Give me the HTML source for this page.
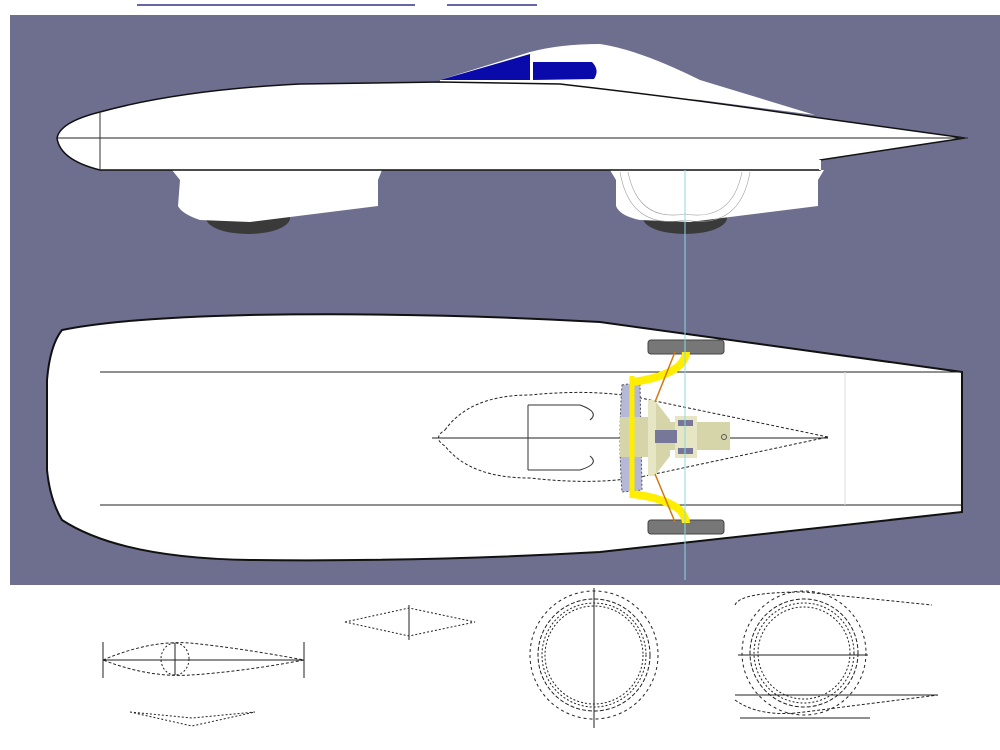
<!DOCTYPE html>
<html><head><meta charset="utf-8"><style>
html,body{margin:0;padding:0;background:#fff;width:1000px;height:750px;overflow:hidden}
svg{display:block}
</style></head><body>
<svg width="1000" height="750" viewBox="0 0 1000 750" xmlns="http://www.w3.org/2000/svg">
<rect x="0" y="0" width="1000" height="750" fill="#fff"/>
<line x1="137" y1="5" x2="415" y2="5" stroke="#33338a" stroke-width="1.5"/>
<line x1="447" y1="5" x2="537" y2="5" stroke="#33338a" stroke-width="1.5"/>
<rect x="10" y="15" width="990" height="570" fill="#6e6e8f"/>

<!-- SIDE VIEW -->
<ellipse cx="248" cy="218" rx="42" ry="16" fill="#3a3a3a"/>
<ellipse cx="685" cy="218" rx="42" ry="16" fill="#3a3a3a"/>
<path d="M172,170 L180,180 L178,206 Q182,214 200,220 L250,222 L378,206 L378,180 L382,170 Z" fill="#fff"/>
<path d="M610,170 L616,180 L616,206 Q620,216 640,220 L690,222 L818,206 L818,180 L824,170 Z" fill="#fff"/>
<g fill="none" stroke="#999" stroke-width="0.6">
<path d="M620,172 Q630,230 685,220 Q740,230 750,172"/>
<path d="M628,172 Q638,222 685,214 Q732,222 742,172"/>
<line x1="685" y1="172" x2="685" y2="222" stroke="#555"/>
</g>
<path d="M440,80 L530,52 Q560,44 600,44 Q640,50 700,80 L815,115 L700,100 L560,88 L440,82 Z" fill="#fff"/>
<path d="M440,80 L530,54 L530,80 Z" fill="#0a0aaa"/>
<path d="M533,62 L592,62 Q600,70 594,79 L533,80 Z" fill="#0a0aaa"/>
<path d="M100,112 Q180,90 300,84 L440,82 L560,84 Q700,100 820,118 L965,138 L820,160 L820,170 L100,170 Q60,160 57,138 Q60,122 100,112 Z" fill="#fff" stroke="#111" stroke-width="1.5"/>
<line x1="57" y1="138" x2="968" y2="138" stroke="#222" stroke-width="1"/>
<line x1="100" y1="112" x2="100" y2="170" stroke="#333" stroke-width="1"/>
<line x1="820" y1="160" x2="820" y2="170" stroke="#fff" stroke-width="2"/>

<!-- TOP VIEW -->
<path d="M62,330 Q120,318 250,315 Q420,312 600,322 L962,372 L962,512 L600,552 Q420,562 250,560 Q120,558 62,520 Q50,500 47,470 L47,380 Q50,345 62,330 Z" fill="#fff" stroke="#111" stroke-width="2"/>
<line x1="100" y1="372" x2="962" y2="372" stroke="#222"/>
<line x1="100" y1="505" x2="962" y2="505" stroke="#222"/>
<line x1="845" y1="372" x2="845" y2="505" stroke="#ddd"/>
<path d="M445,430 Q470,395 530,395 Q600,388 650,400 L828,437 L650,475 Q600,486 530,478 Q470,478 445,446 Q432,438 445,430 Z" fill="none" stroke="#222" stroke-width="1" stroke-dasharray="3,2"/>
<line x1="432" y1="438" x2="828" y2="438" stroke="#222"/>
<path d="M528,405 L528,470 M528,405 L580,405 Q600,412 590,420 M528,470 L580,470 Q600,464 590,456" fill="none" stroke="#333"/>
<rect x="648" y="340" width="76" height="14" rx="3" fill="#777" stroke="#444"/>
<rect x="648" y="520" width="76" height="14" rx="3" fill="#777" stroke="#444"/>
<path d="M622,385 L640,382 L642,490 L622,492 Q618,440 622,385 Z" fill="#b6b8d8" stroke="#555" stroke-dasharray="2,2"/>
<rect x="620" y="417" width="40" height="40" fill="#d6d5aa"/>
<rect x="648" y="400" width="8" height="76" fill="#e6e5c4"/>
<path d="M656,402 L670,420 L670,456 L656,474 Z" fill="#d6d5aa"/>
<rect x="670" y="422" width="60" height="28" fill="#d6d5aa"/>
<rect x="675" y="416" width="22" height="42" fill="#e6e5c4"/>
<rect x="655" y="430" width="22" height="13" fill="#777799"/>
<rect x="678" y="420" width="15" height="6" fill="#777799"/>
<rect x="678" y="448" width="15" height="6" fill="#777799"/>
<circle cx="724" cy="437" r="2.5" fill="none" stroke="#555"/>
<path d="M632,376 L632,498" stroke="#ffee00" stroke-width="5"/>
<path d="M632,382 Q665,378 680,365 Q686,358 686,352" fill="none" stroke="#ffee00" stroke-width="8"/>
<path d="M632,494 Q665,498 680,510 Q686,518 686,523" fill="none" stroke="#ffee00" stroke-width="8"/>
<line x1="655" y1="402" x2="675" y2="352" stroke="#d07810" stroke-width="1.5"/>
<line x1="655" y1="474" x2="675" y2="522" stroke="#d07810" stroke-width="1.5"/>
<line x1="685" y1="170" x2="685" y2="580" stroke="#8fd8e0" stroke-width="1"/>

<!-- BOTTOM DETAILS -->
<g fill="none" stroke="#222" stroke-width="1">
<line x1="103" y1="642" x2="103" y2="678"/>
<line x1="304" y1="642" x2="304" y2="678"/>
<line x1="103" y1="660" x2="304" y2="660"/>
<path d="M103,660 Q150,640 190,643 Q240,648 304,660 Q240,672 190,675 Q150,678 103,660" stroke-dasharray="3,2"/>
<ellipse cx="175" cy="659" rx="14" ry="16" stroke-dasharray="2,2"/>
<line x1="175" y1="643" x2="175" y2="675"/>
<path d="M130,712 L192,718 L255,712 M130,712 L192,726 L255,712" stroke-dasharray="2,2"/>
<path d="M345,622 L409,608 L475,622 L409,636 Z" stroke-dasharray="2,2"/>
<line x1="409" y1="605" x2="409" y2="640"/>
<circle cx="594" cy="655" r="64" stroke-dasharray="3,3"/>
<circle cx="594" cy="655" r="56" stroke-dasharray="4,2"/>
<circle cx="594" cy="655" r="52" stroke-dasharray="2,2"/>
<circle cx="594" cy="655" r="49" stroke-dasharray="2,2"/>
<line x1="594" y1="588" x2="594" y2="728"/>
<circle cx="804" cy="653" r="62" stroke-dasharray="3,3"/>
<circle cx="804" cy="653" r="54" stroke-dasharray="4,2"/>
<circle cx="804" cy="653" r="50" stroke-dasharray="2,2"/>
<circle cx="804" cy="653" r="46" stroke-dasharray="2,2"/>
<line x1="738" y1="655" x2="868" y2="655"/>
<line x1="735" y1="695" x2="938" y2="695"/>
<line x1="740" y1="718" x2="870" y2="718"/>
<path d="M735,605 Q740,592 804,592 L932,605" stroke-dasharray="3,2"/>
<path d="M735,700 Q760,718 804,712 L938,695" stroke-dasharray="3,2"/>
</g>
</svg>
</body></html>
